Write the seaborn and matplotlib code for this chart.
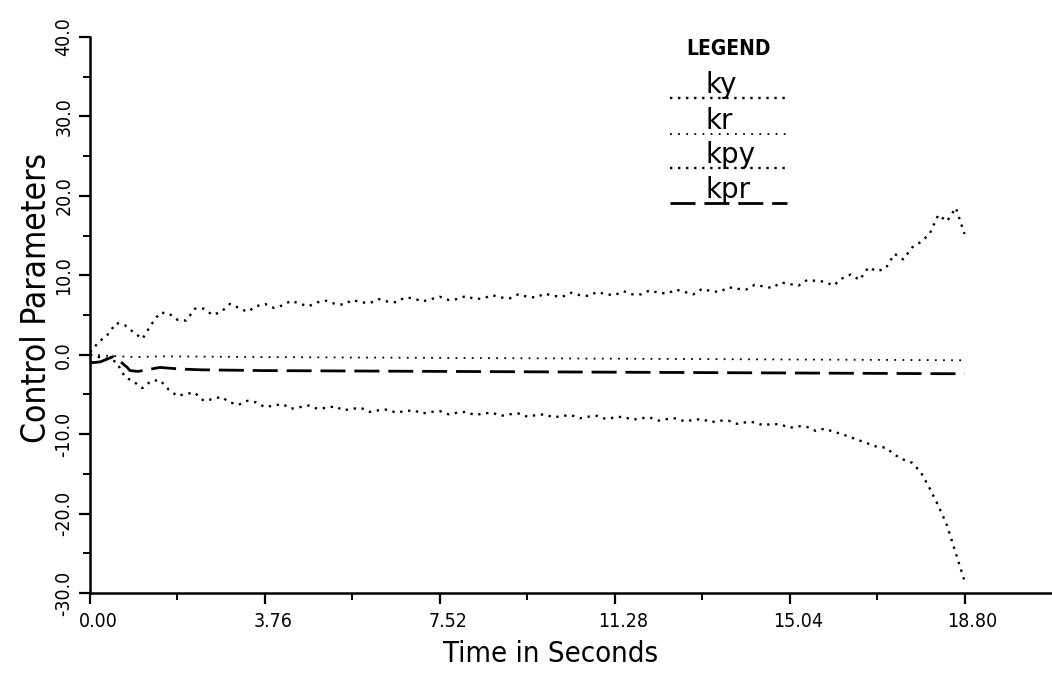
import numpy as np
import matplotlib
matplotlib.use("Agg")
import matplotlib.pyplot as plt
from matplotlib.transforms import ScaledTranslation
import seaborn as sns

# ---- data -------------------------------------------------------------
# sampled gain histories (seconds, gain value)
t_step = 0.188
t_osc = np.round(np.arange(101) * t_step, 3)

ky = [0.3, 1.6, 2.5, 4.0, 3.7, 2.8, 2.0, 3.8, 5.3, 5.2,
      4.4, 4.3, 5.8, 5.8, 5.0, 5.4, 6.4, 5.9, 5.4, 6.1,
      6.4, 5.9, 6.2, 6.8, 6.4, 6.1, 6.6, 6.8, 6.4, 6.3,
      6.9, 6.6, 6.5, 7.0, 6.7, 6.6, 7.2, 7.1, 6.7, 7.0,
      7.3, 6.9, 7.0, 7.4, 7.0, 7.1, 7.5, 7.2, 7.1, 7.6,
      7.3, 7.2, 7.7, 7.4, 7.3, 7.8, 7.5, 7.4, 7.9, 7.6,
      7.5, 8.0, 7.6, 7.6, 8.1, 7.8, 7.7, 8.2, 7.9, 7.6,
      8.3, 8.0, 7.9, 8.5, 8.3, 8.2, 8.8, 8.6, 8.4, 9.1,
      8.9, 8.7, 9.4, 9.3, 9.2, 8.7, 9.6, 10.1, 9.4, 11.0,
      10.5, 10.9, 12.7, 12.0, 13.5, 14.2, 15.2, 17.6, 16.8, 18.5,
      15.2]

kpy = [0.0, -0.3, -0.5, -0.9, -2.8, -3.4, -4.2, -3.3, -3.2, -4.4,
       -5.2, -4.9, -4.8, -5.8, -5.6, -5.3, -6.0, -6.3, -5.8, -6.0,
       -6.6, -6.4, -6.2, -6.8, -6.6, -6.4, -6.8, -6.7, -6.5, -7.0,
       -6.8, -6.7, -7.2, -7.0, -6.9, -7.3, -7.1, -7.0, -7.4, -7.2,
       -7.1, -7.5, -7.3, -7.2, -7.6, -7.4, -7.3, -7.7, -7.5, -7.4,
       -7.8, -7.6, -7.5, -7.9, -7.7, -7.6, -8.0, -7.8, -7.7, -8.1,
       -7.9, -7.8, -8.2, -8.0, -7.9, -8.3, -8.1, -8.0, -8.4, -8.2,
       -8.1, -8.5, -8.3, -8.3, -8.7, -8.5, -8.5, -8.9, -8.7, -8.8,
       -9.2, -9.0, -9.1, -9.6, -9.3, -9.7, -10.0, -10.4, -10.8, -11.2,
       -11.6, -11.7, -12.6, -13.2, -13.6, -14.8, -16.8, -19.0, -21.5, -25.0,
       -28.5]

t_kr = [0.0, 0.3, 0.6, 1.0, 1.5, 3.76, 7.52, 11.28, 15.04, 18.8]
kr = [0.0, -0.1, -0.2, -0.3, -0.2, -0.3, -0.4, -0.5, -0.6, -0.7]

t_kpr = [0.0, 0.06, 0.22, 0.39, 0.49, 0.60, 0.80, 0.86, 1.03, 1.23,
         1.50, 1.94, 2.37, 3.76, 7.52, 11.28, 15.04, 18.8]
kpr = [-0.9, -1.0, -0.9, -0.5, -0.25, -0.6, -1.6, -2.0, -2.1, -1.9,
       -1.6, -1.8, -1.9, -2.0, -2.1, -2.2, -2.3, -2.4]

series_names = ["ky", "kr", "kpy", "kpr"]
x_ticks = [0.00, 3.76, 7.52, 11.28, 15.04, 18.80]
y_ticks = [-30.0, -20.0, -10.0, 0.0, 10.0, 20.0, 30.0, 40.0]

# ---- style --------------------------------------------------------------
sns.set_theme(style="ticks")
plt.rcParams["font.family"] = ["DejaVu Sans"]
plt.rcParams["font.stretch"] = "condensed"

ink = "black"
dot_style = dict(color=ink, linewidth=1.7, linestyle=(0, (1, 2.4)))
fine_dot_style = dict(color=ink, linewidth=1.3, linestyle=(0, (1, 3.5)))
dash_style = dict(color=ink, linewidth=2.0, linestyle=(0, (9, 3.2)))
styles = {"ky": dot_style, "kr": fine_dot_style, "kpy": dot_style, "kpr": dash_style}

fig = plt.figure(figsize=(10.52, 6.90), dpi=100)
ax = fig.add_axes([90 / 1052, 97 / 690, 962 / 1052, 556 / 690])

sns.lineplot(x=t_osc, y=ky, ax=ax, sort=False, **styles["ky"])
sns.lineplot(x=t_kr, y=kr, ax=ax, sort=False, **styles["kr"])
sns.lineplot(x=t_osc, y=kpy, ax=ax, sort=False, **styles["kpy"])
sns.lineplot(x=t_kpr, y=kpr, ax=ax, sort=False, **styles["kpr"])

ax.set_xlim(0, 20.68)
ax.set_ylim(-30, 40)

ax.set_xticks(x_ticks)
ax.set_xticklabels([f"{v:.2f}" for v in x_ticks])
ax.set_xticks([v + 1.88 for v in x_ticks[:-1]], minor=True)
ax.set_yticks(y_ticks)
ax.set_yticklabels([f"{v:.1f}" for v in y_ticks], rotation=90, va="center")
ax.set_yticks(np.arange(-25, 40, 10), minor=True)

ax.tick_params(axis="both", which="major", direction="out", length=8,
               width=1.6, color=ink, labelsize=14, labelcolor=ink)
ax.tick_params(axis="both", which="minor", direction="out", length=5,
               width=1.4, color=ink)
ax.tick_params(axis="x", which="major", pad=6)
ax.tick_params(axis="y", which="major", pad=4)

# x tick labels sit slightly to the right of their ticks
shift_x = ScaledTranslation(8 / 100, 0, fig.dpi_scale_trans)
for lbl in ax.get_xticklabels():
    lbl.set_transform(lbl.get_transform() + shift_x)

for side in ("top", "right"):
    ax.spines[side].set_visible(False)
for side in ("left", "bottom"):
    ax.spines[side].set_color(ink)
    ax.spines[side].set_linewidth(1.8)

ax.set_xlabel("Time in Seconds", fontsize=21, color=ink)
ax.xaxis.set_label_coords(9.9 / 20.68, -0.085)
ax.set_ylabel("Control Parameters", fontsize=24, color=ink)
ax.yaxis.set_label_coords(-0.038, 0.53)
ax.grid(False)

# ---- legend block: label above a sample of each line style -------------
W, H = 1052.0, 690.0
fig.text(728 / W, 1 - 49 / H, "LEGEND", fontsize=15, fontweight="bold",
         ha="center", va="center", color=ink)
legend_rows = [98, 134, 168, 203]
for name, row in zip(series_names, legend_rows):
    fig.text(705 / W, 1 - (row - 5) / H, name, fontsize=20, stretch="normal",
             ha="left", va="baseline", color=ink)
    ax.plot([670 / W, 787 / W], [1 - row / H, 1 - row / H],
            transform=fig.transFigure, clip_on=False, **styles[name])

fig.savefig("out.png", dpi=100, facecolor="white")
